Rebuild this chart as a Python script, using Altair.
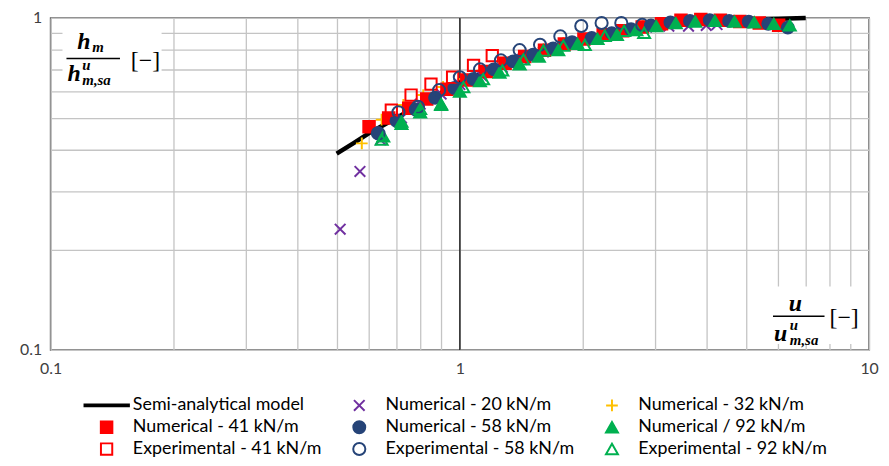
import altair as alt
import pandas as pd

# ---------------- data ----------------
series_order = [
    "Semi-analytical model",
    "Numerical - 20 kN/m",
    "Numerical - 32 kN/m",
    "Numerical - 41 kN/m",
    "Numerical - 58 kN/m",
    "Numerical / 92 kN/m",
    "Experimental - 41 kN/m",
    "Experimental - 58 kN/m",
    "Experimental - 92 kN/m",
]

model_x = [0.5, 0.55, 0.6, 0.65, 0.7, 0.8, 0.9, 1.0, 1.1, 1.25, 1.4, 1.6, 1.8, 2.0, 2.25, 2.5, 2.8, 3.2, 3.6, 4.0, 4.5, 5.0, 6.0, 7.0]
model_y = [0.39, 0.42, 0.45, 0.475, 0.50, 0.55, 0.595, 0.635, 0.67, 0.72, 0.76, 0.80, 0.835, 0.865, 0.895, 0.92, 0.94, 0.96, 0.972, 0.98, 0.986, 0.99, 0.995, 1.0]

num20_x = [0.51, 0.57, 0.64, 0.72, 0.80, 0.90, 1.0, 1.13, 1.27, 1.42, 1.60, 1.80, 2.02, 2.27, 2.55, 2.86, 3.24, 3.62, 4.0, 4.25]
num20_y = [0.231, 0.345, 0.43, 0.50, 0.55, 0.59, 0.63, 0.67, 0.71, 0.75, 0.79, 0.83, 0.86, 0.89, 0.92, 0.94, 0.945, 0.945, 0.95, 0.955]

num32_x = [0.576, 0.644, 0.728, 0.814, 0.91, 1.02, 1.14, 1.28, 1.43, 1.60, 1.79, 2.0, 2.24, 2.5, 2.8, 3.13, 3.5, 3.92, 4.38, 4.9, 5.73]
num32_y = [0.419, 0.494, 0.547, 0.586, 0.62, 0.655, 0.695, 0.735, 0.77, 0.805, 0.84, 0.865, 0.895, 0.92, 0.945, 0.965, 0.98, 0.985, 0.98, 0.975, 0.96]

num41_x = [0.60, 0.67, 0.75, 0.83, 0.93, 1.04, 1.16, 1.29, 1.44, 1.61, 1.80, 2.01, 2.24, 2.50, 2.79, 3.11, 3.47, 3.88, 4.33, 4.83, 5.39, 6.01]
num41_y = [0.47, 0.50, 0.535, 0.57, 0.61, 0.65, 0.69, 0.73, 0.765, 0.80, 0.835, 0.865, 0.89, 0.915, 0.94, 0.96, 0.985, 0.99, 0.985, 0.975, 0.965, 0.95]

num58_x = [0.63, 0.70, 0.78, 0.87, 0.97, 1.08, 1.21, 1.35, 1.51, 1.69, 1.88, 2.10, 2.35, 2.62, 2.93, 3.27, 3.65, 4.08, 4.55, 5.08, 5.67, 6.33]
num58_y = [0.45, 0.49, 0.53, 0.575, 0.615, 0.655, 0.70, 0.74, 0.775, 0.81, 0.845, 0.87, 0.90, 0.925, 0.95, 0.97, 0.98, 0.985, 0.98, 0.975, 0.96, 0.935]

num92_x = [0.65, 0.72, 0.80, 0.90, 1.00, 1.12, 1.25, 1.40, 1.56, 1.74, 1.94, 2.17, 2.42, 2.70, 3.02, 3.37, 3.76, 4.20, 4.69, 5.24, 5.85, 6.40]
num92_y = [0.44, 0.48, 0.52, 0.55, 0.60, 0.645, 0.685, 0.725, 0.765, 0.80, 0.835, 0.865, 0.89, 0.92, 0.945, 0.965, 0.975, 0.98, 0.975, 0.97, 0.96, 0.95]

exp41_x = [0.68, 0.76, 0.85, 0.96, 1.08, 1.20]
exp41_y = [0.528, 0.586, 0.632, 0.663, 0.72, 0.77]

exp58_x = [0.633, 0.708, 0.79, 0.89, 1.0, 1.12, 1.26, 1.40, 1.57, 1.76, 1.98, 2.22, 2.48, 2.79]
exp58_y = [0.449, 0.52, 0.54, 0.606, 0.663, 0.70, 0.745, 0.80, 0.83, 0.88, 0.946, 0.966, 0.966, 0.953]

exp92_x = [0.644, 0.72, 0.80, 0.90, 1.02, 1.14, 1.27, 1.43, 1.60, 1.79, 2.02, 2.26, 2.52, 2.82]
exp92_y = [0.43, 0.487, 0.532, 0.547, 0.619, 0.654, 0.695, 0.75, 0.798, 0.825, 0.83, 0.884, 0.915, 0.902]

x_ticks = [0.1, 0.2, 0.3, 0.4, 0.5, 0.6, 0.7, 0.8, 0.9, 1, 2, 3, 4, 5, 6, 7, 8, 9, 10]
y_ticks = [0.1, 0.2, 0.3, 0.4, 0.5, 0.6, 0.7, 0.8, 0.9, 1]

# ---------------- tables ----------------
model_df = pd.DataFrame({"x": model_x, "y": model_y})

series_data = [
    (series_order[1], num20_x, num20_y),
    (series_order[2], num32_x, num32_y),
    (series_order[3], num41_x, num41_y),
    (series_order[4], num58_x, num58_y),
    (series_order[5], num92_x, num92_y),
    (series_order[6], exp41_x, exp41_y),
    (series_order[7], exp58_x, exp58_y),
    (series_order[8], exp92_x, exp92_y),
]
rows = []
for name, xs, ys in series_data:
    for xv, yv in zip(xs, ys):
        rows.append({"series": name, "x": xv, "y": yv})
points_df = pd.DataFrame(rows)

# ---------------- styles ----------------
LINE_PATH = "M-1,-0.04L1,-0.04L1,0.04L-1,0.04Z"
X_PATH = "M-1,-1L1,1M-1,1L1,-1"
PLUS_PATH = "M-1,0L1,0M0,-1L0,1"

style = {
    series_order[0]: (LINE_PATH, "#000000", "#000000", 2025),
    series_order[1]: (X_PATH, "#7030A0", "transparent", 115),
    series_order[2]: (PLUS_PATH, "#FFC000", "transparent", 140),
    series_order[3]: ("square", "#FF0000", "#FF0000", 135),
    series_order[4]: ("circle", "#264478", "#264478", 145),
    series_order[5]: ("triangle-up", "#00B050", "#00B050", 145),
    series_order[6]: ("square", "#FF0000", "transparent", 130),
    series_order[7]: ("circle", "#264478", "transparent", 150),
    series_order[8]: ("triangle-up", "#00B050", "transparent", 145),
}

# legend lays out entries column by column -> order domain accordingly
legend_order = [series_order[i] for i in (0, 3, 6, 1, 4, 7, 2, 5, 8)]
shape_range = [style[s][0] for s in legend_order]
stroke_range = [style[s][1] for s in legend_order]
fill_range = [style[s][2] for s in legend_order]
size_range = [style[s][3] for s in legend_order]

W, H = 826, 335
FONT = "Lato"
SERIF = "Liberation Serif"

x_scale = alt.Scale(type="log", domain=[0.1, 10], nice=False)
y_scale = alt.Scale(type="log", domain=[0.1, 1], nice=False)

x_axis = alt.Axis(
    values=x_ticks,
    labelExpr="datum.value == 0.1 ? '0.1' : datum.value == 1 ? '1' : datum.value == 10 ? '10' : ''",
    grid=True, gridColor="#c4c4c4", gridWidth=1.3,
    domain=False, ticks=False, title=None,
    labelFont=FONT, labelFontSize=16, labelColor="#404040",
    labelPadding=11, labelOverlap=False, labelFlush=False, labelBound=False,
)
y_axis = alt.Axis(
    values=y_ticks,
    labelExpr="datum.value == 0.1 ? '0.1' : datum.value == 1 ? '1' : ''",
    grid=True, gridColor="#c4c4c4", gridWidth=1.3,
    domain=False, ticks=False, title=None,
    labelFont=FONT, labelFontSize=16, labelColor="#404040",
    labelPadding=9, labelOverlap=False, labelFlush=False, labelBound=False,
)

legend = alt.Legend(
    title=None, orient="none", legendX=33, legendY=380, columns=3,
    labelFont=FONT, labelFontSize=18, labelColor="#000000",
    labelOffset=3, columnPadding=14, rowPadding=0, clipHeight=22,
    symbolStrokeWidth=2, symbolOpacity=1, padding=0, labelLimit=400,
)

base_x = alt.X("x:Q", scale=x_scale, axis=x_axis)
base_y = alt.Y("y:Q", scale=y_scale, axis=y_axis)

rule_one = alt.Chart(alt.Data(values=[{}])).mark_rule(color="#262626", strokeWidth=1.5).encode(
    x=alt.datum(1, scale=x_scale, axis=x_axis)
)

model_line = alt.Chart(model_df).mark_line(color="#000000", strokeWidth=4.5, strokeCap="butt").encode(
    x=base_x, y=base_y
)

pts = alt.Chart(points_df).mark_point(opacity=1, strokeWidth=2).encode(
    x=base_x,
    y=base_y,
    shape=alt.Shape("series:N", scale=alt.Scale(type="ordinal", domain=legend_order, range=shape_range), legend=legend),
    stroke=alt.Stroke("series:N", scale=alt.Scale(type="ordinal", domain=legend_order, range=stroke_range), legend=legend),
    fill=alt.Fill("series:N", scale=alt.Scale(type="ordinal", domain=legend_order, range=fill_range), legend=legend),
    size=alt.Size("series:N", scale=alt.Scale(type="ordinal", domain=legend_order, range=size_range), legend=legend),
)

one = alt.Data(values=[{}])


def box(x1, x2, y1, y2):
    return alt.Chart(one).mark_rect(color="white").encode(
        x=alt.value(x1), x2=alt.value(x2), y=alt.value(y1), y2=alt.value(y2)
    )


def bar(x1, x2, yv):
    return alt.Chart(one).mark_rule(color="black", strokeWidth=1.5).encode(
        x=alt.value(x1), x2=alt.value(x2), y=alt.value(yv)
    )


def txt(t, xv, yv, size, bold=True, italic=True, baseline="alphabetic"):
    kw = dict(text=t, font=SERIF, fontSize=size, align="left", baseline=baseline, color="black")
    if bold:
        kw["fontWeight"] = "bold"
    if italic:
        kw["fontStyle"] = "italic"
    return alt.Chart(one).mark_text(**kw).encode(x=alt.value(xv), y=alt.value(yv))


annotations = [
    # y-axis title  h_m / h^u_{m,sa} [-]
    box(12, 112, 5, 70),
    txt("h", 27, 31, 24),
    txt("m", 42, 34, 15),
    bar(16, 70, 41),
    txt("h", 17, 64, 24),
    txt("u", 32, 53, 15),
    txt("m,sa", 32, 68, 15),
    txt("[\u2212]", 81, 43, 24, bold=False, italic=False, baseline="middle"),
    # x-axis title  u / u^u_{m,sa} [-]
    box(715, 822, 271, 329),
    txt("u", 745, 296, 24),
    bar(729, 781, 301),
    txt("u", 730, 326, 24),
    txt("u", 746, 315, 15),
    txt("m,sa", 746, 330, 15),
    txt("[\u2212]", 786, 303, 24, bold=False, italic=False, baseline="middle"),
]

chart = alt.layer(rule_one, model_line, pts, *annotations).properties(
    width=W, height=H,
    autosize=alt.AutoSizeParams(type="none"),
    padding={"left": 43, "top": 8, "right": 12, "bottom": 107},
    background="white",
).configure_view(stroke="#595959", strokeWidth=1.6)

chart.save("out.html", embed_options={"renderer": "svg", "actions": False})
